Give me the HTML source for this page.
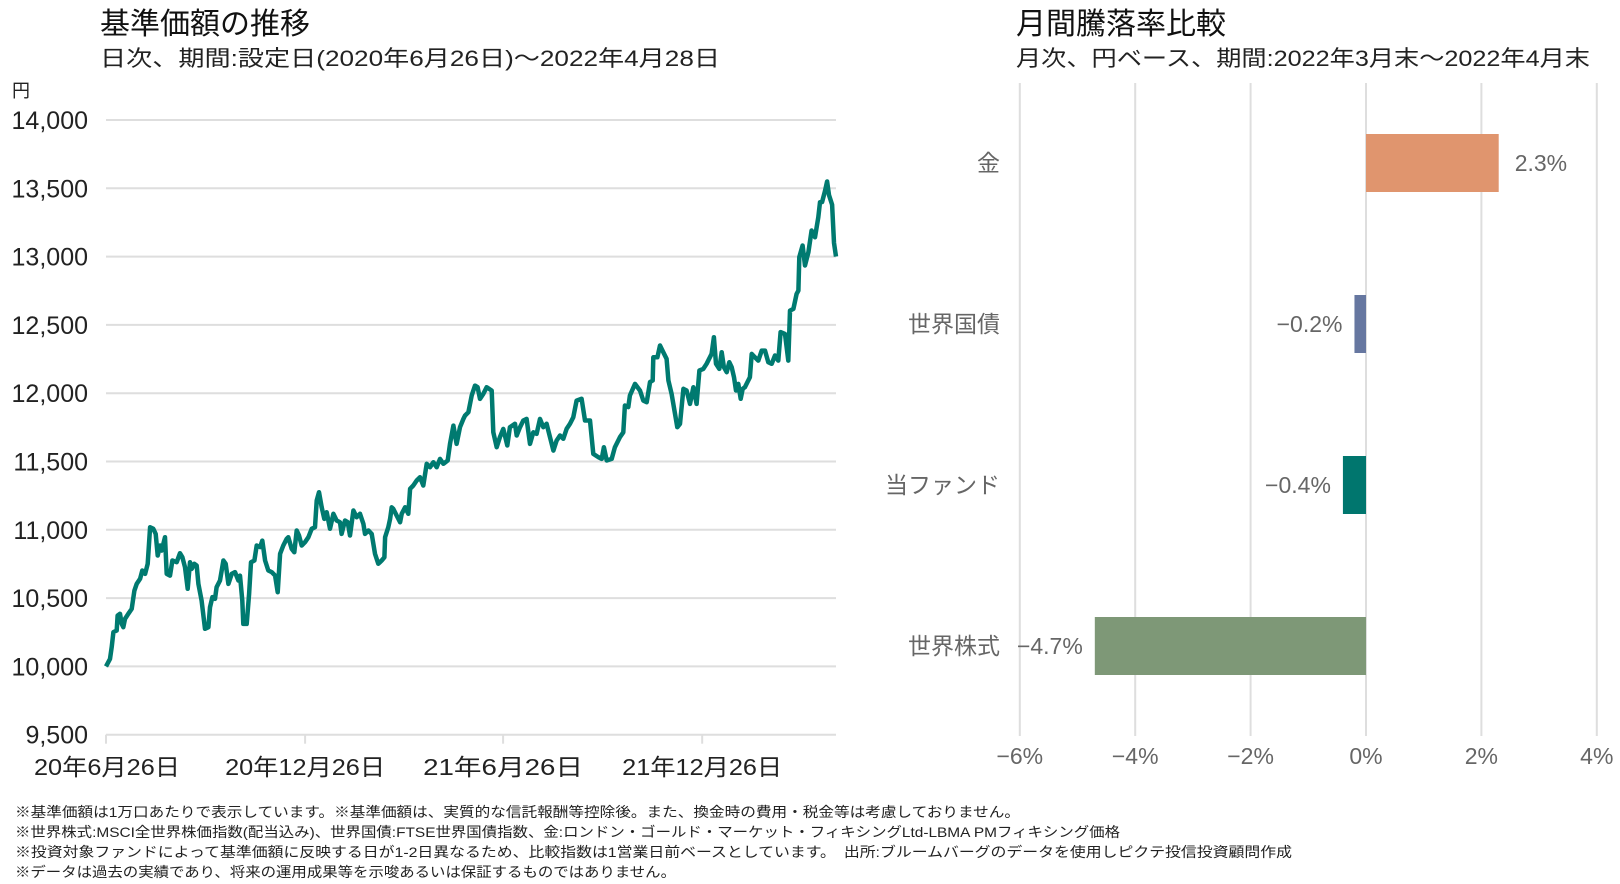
<!DOCTYPE html>
<html><head><meta charset="utf-8"><style>
html,body{margin:0;padding:0;background:#fff;}
svg{display:block;font-family:"Liberation Sans","Noto Sans CJK JP",sans-serif;}
</style></head><body>
<svg id="root" width="1620" height="884" viewBox="0 0 1620 884">
<text x="100" y="34" font-size="30" fill="#111">基準価額の推移</text>
<text x="100" y="66" font-size="22" fill="#222" textLength="620" lengthAdjust="spacingAndGlyphs">日次、期間:設定日(2020年6月26日)～2022年4月28日</text>
<text x="12" y="97" font-size="18" fill="#222">円</text>
<g id="leftGrid"></g>
<g id="leftYLabels"></g>
<g id="leftXLabels"></g>
<path id="navLine" fill="none" stroke="#007a70" stroke-width="4.5" stroke-linejoin="round"></path>

<text x="1016" y="34" font-size="30" fill="#111">月間騰落率比較</text>
<text x="1016" y="66" font-size="22" fill="#222" textLength="574" lengthAdjust="spacingAndGlyphs">月次、円ベース、期間:2022年3月末～2022年4月末</text>
<g id="rightGrid"></g>
<g id="rightBars"></g>

<g font-size="14" fill="#222">
<text x="15" y="817" textLength="1005" lengthAdjust="spacingAndGlyphs">※基準価額は1万口あたりで表示しています。※基準価額は、実質的な信託報酬等控除後。また、換金時の費用・税金等は考慮しておりません。</text>
<text x="15" y="837" textLength="1105" lengthAdjust="spacingAndGlyphs">※世界株式:MSCI全世界株価指数(配当込み)、世界国債:FTSE世界国債指数、金:ロンドン・ゴールド・マーケット・フィキシングLtd-LBMA PMフィキシング価格</text>
<text x="15" y="857" textLength="1277" lengthAdjust="spacingAndGlyphs">※投資対象ファンドによって基準価額に反映する日が1-2日異なるため、比較指数は1営業日前ベースとしています。　出所:ブルームバーグのデータを使用しピクテ投信投資顧問作成</text>
<text x="15" y="877" textLength="661" lengthAdjust="spacingAndGlyphs">※データは過去の実績であり、将来の運用成果等を示唆あるいは保証するものではありません。</text>
</g>
</svg>
<script>
const navDays = [0,3.7,5.2,6.8,9.8,10.7,12.9,14.4,15.9,17.5,20.5,23.6,26.1,28.2,31.3,33.4,35.9,38.3,40.5,43.5,45.7,47.5,49.6,51.2,54.2,55.8,58.8,61.0,65.0,68.0,70.2,72.6,75.1,77.2,78.8,81.2,83.4,84.9,87.9,91.0,94.1,95.6,97.8,100.2,101.7,104.8,107.9,110.0,112.5,115.5,118.6,121.7,123.2,125.3,126.2,129.3,131.5,133.3,136.4,138.5,141.6,143.7,146.2,149.2,152.3,155.4,157.8,160.0,163.0,166.1,167.6,170.7,173.1,175.3,177.4,179.9,182.9,186.0,189.1,192.1,193.7,195.8,198.3,200.7,202.9,205.9,209.0,212.0,215.1,216.6,219.7,222.2,224.3,227.4,230.4,233.5,236.6,238.1,241.2,244.2,247.3,250.3,253.4,255.9,256.5,259.5,261.1,262.6,264.1,267.2,270.3,271.8,274.9,277.9,279.5,282.5,285.6,288.6,291.7,294.8,297.8,300.9,304.0,307.0,310.1,314.1,316.2,319.3,322.3,325.4,328.5,330.0,333.1,336.1,339.2,341.6,343.8,346.8,349.9,354.5,356.0,359.1,362.1,365.2,368.9,371.3,375.9,377.5,380.5,383.6,386.6,389.7,392.8,395.8,398.9,402.0,405.0,408.1,411.2,414.2,417.3,420.3,423.4,426.5,429.5,432.6,437.2,440.3,444.9,447.9,452.5,455.6,457.7,460.2,464.8,467.8,472.4,475.5,477.0,480.1,481.6,486.2,490.8,493.9,497.0,500.0,502.5,503.1,506.8,509.2,512.3,515.3,516.9,519.9,523.0,525.1,527.6,530.7,533.7,536.8,539.9,542.9,545.4,549.0,552.1,556.7,558.8,560.7,563.7,565.9,568.0,570.5,572.9,575.1,577.2,579.1,581.2,583.4,585.2,587.3,591.9,593.5,596.5,599.6,602.7,605.7,608.8,611.9,614.9,618.0,620.1,624.1,627.2,628.7,631.8,634.8,636.4,637.3,640.3,642.5,645.6,648.6,651.7,654.7,656.3,658.2,660.9,662.8,664.6,667.4,669.2,671];
const navValues = [10000,10055,10141,10251,10263,10372,10385,10311,10287,10348,10385,10421,10555,10604,10641,10702,10677,10751,11019,11007,10970,10812,10885,10848,10946,10677,10665,10775,10763,10829,10799,10726,10568,10763,10714,10751,10738,10604,10482,10275,10287,10433,10507,10494,10580,10629,10775,10751,10604,10677,10690,10629,10665,10482,10311,10311,10531,10763,10775,10885,10873,10921,10775,10702,10690,10665,10543,10824,10885,10934,10946,10860,10836,10995,10958,10885,10909,10946,11007,11019,11214,11275,11165,11080,11129,11007,11117,11068,11056,10970,11068,11056,10958,11141,11092,11117,11043,10970,10995,10970,10824,10751,10775,10799,10946,11019,11080,11165,11153,11104,11056,11117,11165,11117,11300,11324,11361,11385,11324,11483,11458,11495,11458,11519,11483,11507,11629,11763,11629,11751,11812,11836,11861,11983,12056,12044,11958,11995,12044,12019,11714,11605,11678,11739,11617,11751,11776,11690,11751,11800,11812,11629,11714,11702,11812,11751,11776,11678,11580,11653,11690,11666,11739,11776,11824,11946,11959,11800,11800,11556,11532,11519,11605,11507,11519,11605,11678,11714,11910,11898,11983,12068,12019,11946,11934,12081,12093,12263,12263,12349,12300,12251,12093,11995,11849,11751,11776,12032,12020,11922,12044,11922,12166,12178,12215,12288,12410,12215,12178,12300,12190,12154,12227,12190,12117,12020,12068,11959,12032,12044,12117,12288,12263,12239,12312,12312,12227,12215,12276,12239,12447,12434,12239,12605,12617,12727,12751,12996,13081,12935,13032,13191,13142,13288,13398,13400,13480,13550,13450,13380,13100,13000];
const yTicks = [9500,10000,10500,11000,11500,12000,12500,13000,13500,14000];
const xTickDays = [0,183,365,548];
const xTickLabels = ["20年6月26日","20年12月26日","21年6月26日","21年12月26日"];

const barCategories = ["金","世界国債","当ファンド","世界株式"];
const barValues = [2.3,-0.2,-0.4,-4.7];
const barLabels = ["2.3%","−0.2%","−0.4%","−4.7%"];
const barColors = ["#e0956e","#6677a0","#00766e","#7e9877"];
const pctTicks = [-6,-4,-2,0,2,4];

const NS="http://www.w3.org/2000/svg";
function mk(tag, attrs, parent){const e=document.createElementNS(NS,tag);for(const k in attrs)e.setAttribute(k,attrs[k]);parent.appendChild(e);return e;}
const xL = d => 106 + d/671*730;
const yL = v => 120 + (14000-v)/500*68.3;

const lg=document.getElementById('leftGrid'), ly=document.getElementById('leftYLabels'), lx=document.getElementById('leftXLabels');
yTicks.forEach(t=>{
  const l=mk('line',{x1:106,x2:836,y1:yL(t),y2:yL(t),stroke:'#dedede','stroke-width':2},lg);
  
  
  const tx=mk('text',{x:88,y:yL(t)+9,'font-size':25,fill:'#222','text-anchor':'end'},ly);
  tx.textContent=t.toLocaleString('en-US');
  
  
});
xTickDays.forEach((d,i)=>{
  const l=mk('line',{x1:xL(d),x2:xL(d),y1:yL(9500),y2:yL(9500)+9,stroke:'#dedede','stroke-width':2},lg);
  
  
  const tx=mk('text',{x:xL(d)-72,y:775,'font-size':23,fill:'#222',textLength:146,lengthAdjust:'spacingAndGlyphs'},lx);
  if(i>0){tx.setAttribute('x',xL(d)-80);tx.setAttribute('textLength',160);}
  tx.textContent=xTickLabels[i];
  
  
});
document.getElementById('navLine').setAttribute('d', navDays.map((d,i)=>(i?'L':'M')+xL(d).toFixed(1)+','+yL(navValues[i]).toFixed(1)).join(''));

const xR = p => 1366 + p*57.7;
const yR = i => 163 + i*161;
const rg=document.getElementById('rightGrid'), rb=document.getElementById('rightBars');
pctTicks.forEach(p=>{
  const l=mk('line',{x1:xR(p),x2:xR(p),y1:83,y2:736,stroke:'#dedede','stroke-width':2},rg);
  
  
  const tx=mk('text',{x:xR(p),y:764,'font-size':23,fill:'#666','text-anchor':'middle'},rg);
  tx.textContent=(p<0?'−':'')+Math.abs(p)+'%';
  
  
});
barCategories.forEach((c,i)=>{
  const v=barValues[i];
  const x0=Math.min(xR(0),xR(v)), w=Math.abs(xR(v)-xR(0));
  const r=mk('rect',{x:x0,y:yR(i)-29,width:w,height:58,fill:barColors[i]},rb);
  
  
  const cl=mk('text',{x:1000,y:yR(i)+8,'font-size':23,fill:'#666','text-anchor':'end'},rb);
  cl.textContent=c;
  
  
  const vl=mk('text',{x:v>=0?xR(v)+16:xR(v)-12,y:yR(i)+8,'font-size':23,fill:'#666','text-anchor':v>=0?'start':'end'},rb);
  vl.textContent=barLabels[i];
  
  
});
</script>
</body></html>
